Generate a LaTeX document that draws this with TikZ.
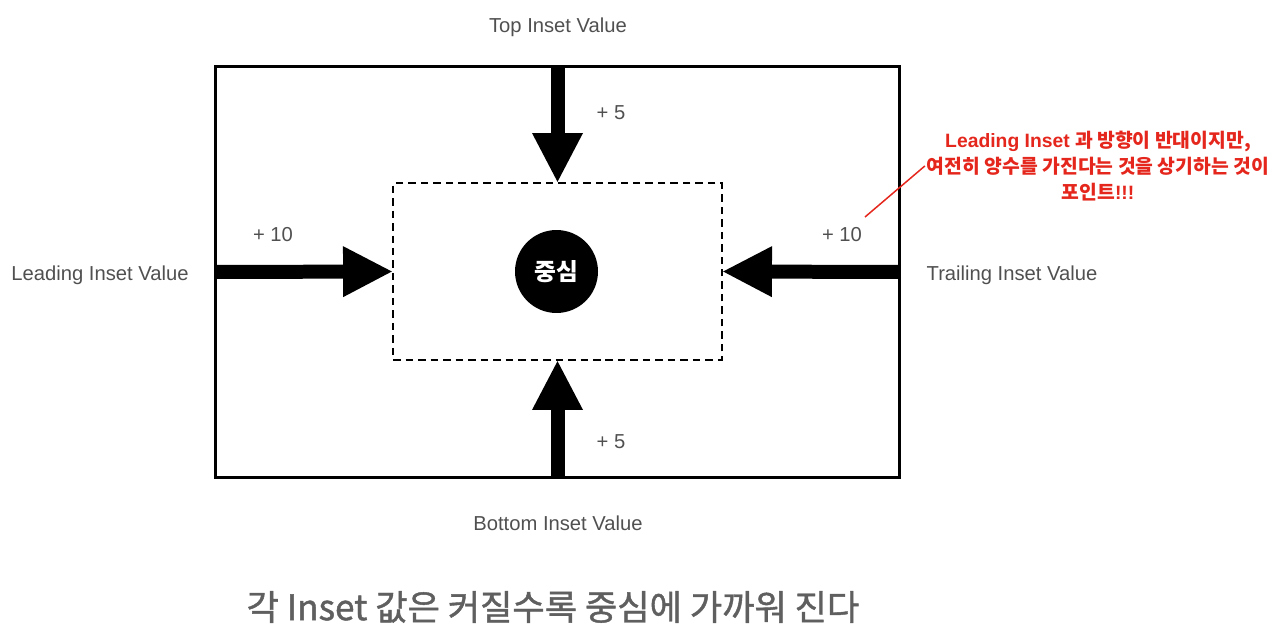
\documentclass[tikz,border=0pt]{standalone}
\usepackage{fontspec}
\setmainfont{Liberation Sans}
\newfontfamily\kr{Noto Sans CJK KR}
\newfontfamily\krcap[FakeBold=1.2]{Noto Sans CJK KR}
\usetikzlibrary{arrows.meta}
\definecolor{labelgray}{RGB}{80,80,80}
\definecolor{notered}{RGB}{228,38,28}
\definecolor{captiongray}{RGB}{95,95,95}

\begin{document}
\begin{tikzpicture}[x=0.02cm,y=-0.02cm,
	frame/.style={draw, line width=0.06cm, minimum width=13.7cm, minimum height=8.24cm, inner sep=0pt, outer sep=0pt},
	safe/.style={draw, line width=0.03cm, dash pattern=on 0.15cm off 0.1cm, minimum width=6.58cm, minimum height=3.54cm, inner sep=0pt, outer sep=0pt},
	fat/.style={line width=0.28cm, -{Triangle[length=1cm,width=0.94cm]}},
	inset/.style={text=labelgray, font=\fontsize{11.5}{13}\selectfont},
	]
		\useasboundingbox (0,0) rectangle (1280,641);
		
		\node[frame] (fr) at (557.5,272) {};
		\node[safe] (sf) at (557.5,271.5) {};
		\node[circle, fill=black, minimum size=1.66cm, inner sep=0pt, text=white, font=\kr\bfseries\fontsize{13.5}{15}\selectfont] (mid) at (556.5,271.5) {중심};
		
		\node[inset] (top) at (558,27) {Top Inset Value};
		\node[inset] (bottom) at (558,523) {Bottom Inset Value};
		\node[inset] (lead) at (100,275) {Leading Inset Value};
		\node[inset] (trail) at (1012,275) {Trailing Inset Value};
		
		\node[inset] (t5) at (611,113) {+ 5};
		\node[inset] (b5) at (611,442) {+ 5};
		\node[inset] (l10) at (273,235) {+ 10};
		\node[inset] (r10) at (842,235) {+ 10};
		
		\draw[fat] (fr.north) -- (sf.north);
		\draw[fat] (fr.south) -- (sf.south);
		\draw[fat] (fr.west) -- (sf.west);
		\draw[fat] (fr.east) -- (sf.east);
		
		% note on the trailing side
		\node[text=notered, align=center, inner sep=1pt, font=\bfseries\fontsize{11}{14.6}\selectfont] (note) at (1098,166)
			{Leading Inset {\kr 과 방향이 반대이지만,}\\{\kr 여전히 양수를 가진다는 것을 상기하는 것이}\\{\kr 포인트}!!!};
		\coordinate (pin) at (865,217);
		\draw[notered, line width=0.03cm] (pin) -- (note.west);
		
		\node[text=captiongray, font=\krcap\fontsize{20}{24}\selectfont] (cap) at (553,607) {각 Inset 값은 커질수록 중심에 가까워 진다};
\end{tikzpicture}
\end{document}
